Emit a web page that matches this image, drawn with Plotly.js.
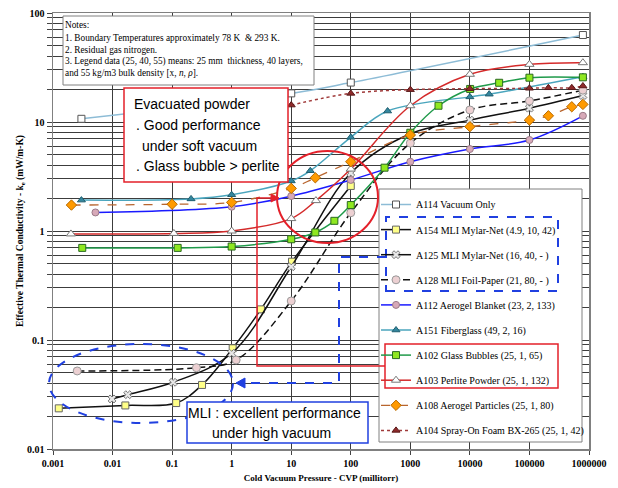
<!DOCTYPE html>
<html><head><meta charset="utf-8">
<script src="https://cdn.plot.ly/plotly-3.0.1.min.js"></script>
<style>html,body{margin:0;padding:0;background:#fff}#chart{width:618px;height:488px}</style>
</head><body><div id="chart"></div>
<script>
// ---------- tick labels ----------
const xTickVals = [0.001, 0.01, 0.1, 1, 10, 100, 1000, 10000, 100000, 1000000];
const xTickText = ['0.001', '0.01', '0.1', '1', '10', '100', '1000', '10000', '100000', '1000000'];
const yTickVals = [0.01, 0.1, 1, 10, 100];
const yTickText = ['0.01', '0.1', '1', '10', '100'];

// ---------- series names ----------
const seriesNames = [
  'A114 Vacuum Only',
  'A154 MLI Mylar-Net (4.9, 10, 42)',
  'A125 MLI Mylar-Net (16, 40, - )',
  'A128 MLI Foil-Paper (21, 80, - )',
  'A112 Aerogel Blanket (23, 2, 133)',
  'A151 Fiberglass (49, 2, 16)',
  'A102 Glass Bubbles (25, 1, 65)',
  'A103 Perlite Powder (25, 1, 132)',
  'A108 Aerogel Particles (25, 1, 80)',
  'A104 Spray-On Foam BX-265 (25, 1, 42)'
];

// ---------- series values (CVP millitorr, k_e mW/m-K) ----------
const a114X = [0.003, 10, 100, 790000];
const a114Y = [10.7, 18.3, 23, 62.8];

const a154X = [0.00125, 0.0164, 0.117, 0.318, 1.04, 3.1, 10.3, 100];
const a154Y = [0.0236, 0.0251, 0.0264, 0.0387, 0.084, 0.191, 0.523, 2.59];

const a125X = [0.0098, 0.018, 0.104, 1, 10, 100, 1000, 10000, 100000, 790000];
const a125Y = [0.0288, 0.0315, 0.0409, 0.0755, 0.47, 3.4, 7.8, 10.4, 13.4, 17.5];

const a128X = [0.00255, 0.256, 1.19, 10, 100, 1000, 10000, 100000, 790000];
const a128Y = [0.052, 0.0557, 0.0656, 0.228, 1.47, 6.4, 12.9, 15.6, 19.6];

const a112X = [0.00516, 1, 10, 100, 1000, 10000, 100000, 790000];
const a112Y = [1.48, 1.67, 2.09, 2.94, 4.32, 5.65, 6.84, 11.4];

const a151X = [0.003, 0.208, 1, 10, 20.9, 100, 415, 10000, 21100, 790000];
const a151Y = [1.92, 1.97, 2.15, 2.88, 3.57, 7.24, 12.6, 17.0, 18.0, 26];

const a102X = [0.0031, 0.124, 1, 10, 25.4, 53, 100, 369, 1000, 2970, 10100, 31000, 100000, 790000];
const a102Y = [0.70, 0.70, 0.72, 0.84, 0.97, 1.24, 1.73, 3.81, 7.97, 14.1, 20.1, 22.9, 25.5, 25.7];

const a103X = [0.002, 0.107, 1, 10, 26, 100, 1000, 10000, 100000, 790000];
const a103Y = [0.94, 0.95, 1.0, 1.3, 1.9, 3.7, 14.1, 27.4, 33.8, 35];

const a108X = [0.00204, 0.1, 1, 10, 25.4, 100, 1000, 10000, 100000, 208000, 514000, 790000];
const a108Y = [1.73, 1.76, 1.83, 2.46, 3.08, 4.32, 7.6, 9.06, 10.4, 11.4, 13.8, 14.5];

const a104X = [10, 100, 1000, 10000, 100000, 208000, 514000, 790000];
const a104Y = [14.3, 18.3, 19.8, 20.2, 20.4, 20.6, 20.6, 21.4];

// ---------- helpers ----------
const L = 53, R = 589, T = 13, B = 449;
function px(x) { return (x - L) / (R - L); }
function py(y) { return (B - y) / (B - T); }

function tr(name, x, y, line, marker) {
  return {
    type: 'scatter', mode: 'lines+markers', name: name, x: x, y: y,
    legendgroup: name,
    line: Object.assign({ shape: 'spline', smoothing: 1, width: 1.5 }, line),
    marker: Object.assign({ size: 7 }, marker)
  };
}

const data = [
  tr(seriesNames[0], a114X, a114Y, { color: '#8dbcd6' }, { symbol: 'square', color: '#ffffff', line: { color: '#555', width: 1 } }),
  tr(seriesNames[1], a154X, a154Y, { color: '#111111' }, { symbol: 'square', color: '#ffff88', line: { color: '#666', width: 1 } }),
  tr(seriesNames[2], a125X, a125Y, { color: '#111111' }, { symbol: 'x', size: 7, color: '#e8e8e8', line: { color: '#777', width: 1 } }),
  tr(seriesNames[3], a128X, a128Y, { color: '#111111', dash: '7px,4px' }, { symbol: 'circle', size: 8, color: '#ecd0d2', line: { color: '#999', width: 1 } }),
  tr(seriesNames[4], a112X, a112Y, { color: '#1a1aff' }, { symbol: 'circle', color: '#d7a9b8', line: { color: '#9a7a88', width: 1 } }),
  tr(seriesNames[5], a151X, a151Y, { color: '#4aa5bd' }, { symbol: 'triangle-up', color: '#34869e', line: { color: '#1f5f70', width: 1 } }),
  tr(seriesNames[6], a102X, a102Y, { color: '#1f9a4a' }, { symbol: 'square', color: '#8fe820', line: { color: '#2a6a20', width: 1 } }),
  tr(seriesNames[7], a103X, a103Y, { color: '#d42a2a' }, { symbol: 'triangle-up', size: 8, color: '#ffffff', line: { color: '#777', width: 1 } }),
  tr(seriesNames[8], a108X, a108Y, { color: '#b8652e', dash: 'dash', width: 1.3 }, { symbol: 'diamond', size: 8, color: '#ff9a00', line: { color: '#b86a00', width: 1 } }),
  tr(seriesNames[9], a104X, a104Y, { color: '#a03a3a', dash: 'dot' }, { symbol: 'triangle-up', color: '#8e2a2a', line: { color: '#5a1a1a', width: 1 } })
];

const RED = '#e4202a', BLUE = '#2040e0';
const serif = 'Liberation Serif, Times New Roman, serif';
const sans = 'Liberation Sans, Arial, sans-serif';

function rect(x0, y0, x1, y1, color, width, fill, dash) {
  return { type: 'rect', xref: 'paper', yref: 'paper', x0: px(x0), x1: px(x1), y0: py(y1), y1: py(y0),
    line: { color: color, width: width, dash: dash || 'solid' }, fillcolor: fill || 'rgba(0,0,0,0)', layer: 'above' };
}
function path(pts, color, width, dash, fill) {
  let d = pts.map((p, i) => (i ? 'L' : 'M') + px(p[0]) + ',' + py(p[1])).join(' ');
  if (fill) d += ' Z';
  return { type: 'path', xref: 'paper', yref: 'paper', path: d, line: { color: color, width: width, dash: dash || 'solid' },
    fillcolor: fill || 'rgba(0,0,0,0)', layer: 'above' };
}
function circ(x0, y0, x1, y1, color, width, dash) {
  return { type: 'circle', xref: 'paper', yref: 'paper', x0: px(x0), x1: px(x1), y0: py(y1), y1: py(y0),
    line: { color: color, width: width, dash: dash || 'solid' }, layer: 'above' };
}
function txt(text, x, y, size, family, xanchor, color) {
  return { text: text, xref: 'paper', yref: 'paper', x: px(x), y: py(y), xanchor: xanchor || 'left', yanchor: 'middle',
    showarrow: false, font: { family: family, size: size, color: color || '#000' } };
}

const shapes = [
  rect(379, 189, 582, 442, '#808080', 1, '#ffffff'),
  rect(386, 217, 558, 291, BLUE, 2, null, 'dash'),
  rect(385, 344, 558, 388, RED, 1.5),
  path([[272, 198], [257, 198], [257, 366], [385, 366]], RED, 1.5),
  path([[271, 194], [279, 198], [271, 202]], RED, 1, null, RED),
  circ(277, 151, 378, 243, RED, 2),
  rect(63, 16, 314, 85, '#808080', 1, '#ffffff'),
  rect(124, 88, 288, 182, RED, 1.5, '#ffffff'),
  circ(49, 344, 233, 423, BLUE, 2, 'dash'),
  path([[386, 257], [339, 257], [339, 383], [244, 383]], BLUE, 2, 'dash'),
  path([[245, 378], [236, 383], [245, 388]], BLUE, 1, null, BLUE),
  rect(187, 402, 368, 443, BLUE, 1.5, '#ffffff')
];

const yTitle = Object.assign(
  txt('<b>Effective Thermal Conductivity - k<sub>e</sub> (mW/m-K)</b>', 20, 231, 9.5, serif, 'center'),
  { textangle: -90 });

const annotations = [
  txt('Notes:', 63, 25, 9.3, serif),
  txt('1. Boundary Temperatures approximately 78 K  & 293 K.', 63, 38, 9.3, serif),
  txt('2. Residual gas nitrogen.', 63, 50, 9.3, serif),
  txt('3. Legend data (25, 40, 55) means: 25 mm  thickness, 40 layers,', 63, 61, 9.3, serif),
  txt('and 55 kg/m3 bulk density [x, <i>n</i>, <i>ρ</i>].', 63, 73, 9.3, serif),
  txt('Evacuated powder', 132, 104, 14, sans),
  txt('. Good performance', 134, 125, 14, sans),
  txt('under soft vacuum', 140, 146, 14, sans),
  txt('. Glass bubble > perlite', 134, 166, 14, sans),
  txt('MLI : excellent performance', 274, 413, 14, sans, 'center'),
  txt('under high vacuum', 271, 433, 14, sans, 'center'),
  yTitle
];

const gridC = '#3c3c3c';
const layout = {
  width: 618, height: 488,
  margin: { l: L, r: 618 - R, t: T, b: 488 - B, autoexpand: false },
  paper_bgcolor: '#ffffff', plot_bgcolor: '#ffffff',
  font: { family: serif, size: 10, color: '#000' },
  showlegend: true,
  legend: {
    x: px(376), y: py(190), xanchor: 'left', yanchor: 'top',
    bgcolor: 'rgba(0,0,0,0)', borderwidth: 0,
    font: { family: serif, size: 10, color: '#000' },
    tracegroupgap: 6.1, itemwidth: 30
  },
  xaxis: {
    type: 'log', range: [-3, 6], tickvals: xTickVals, ticktext: xTickText,
    showgrid: true, gridcolor: gridC, gridwidth: 1,
    showline: true, mirror: true, linecolor: '#808080', linewidth: 1.5,
    ticks: 'outside', ticklen: 4, tickcolor: '#444',
    tickfont: { family: serif, size: 10, color: '#000', weight: 'bold' },
    title: { text: 'Cold Vacuum Pressure - CVP (millitorr)', font: { family: serif, size: 9, color: '#000', weight: 'bold' }, standoff: 7 },
    zeroline: false
  },
  yaxis: {
    type: 'log', range: [-2, 2], tickvals: yTickVals, ticktext: yTickText,
    showgrid: true, gridcolor: gridC, gridwidth: 1,
    showline: true, mirror: true, linecolor: '#808080', linewidth: 1.5,
    ticks: 'outside', ticklen: 5, tickcolor: '#444',
    minor: { dtick: 'D1', showgrid: true, gridcolor: gridC, gridwidth: 1, ticks: 'outside', ticklen: 5, tickcolor: '#444' },
    tickfont: { family: serif, size: 10, color: '#000', weight: 'bold' },
    zeroline: false
  },
  shapes: shapes,
  annotations: annotations
};

Plotly.newPlot('chart', data, layout, { displayModeBar: false, staticPlot: true });
</script>
</body></html>
